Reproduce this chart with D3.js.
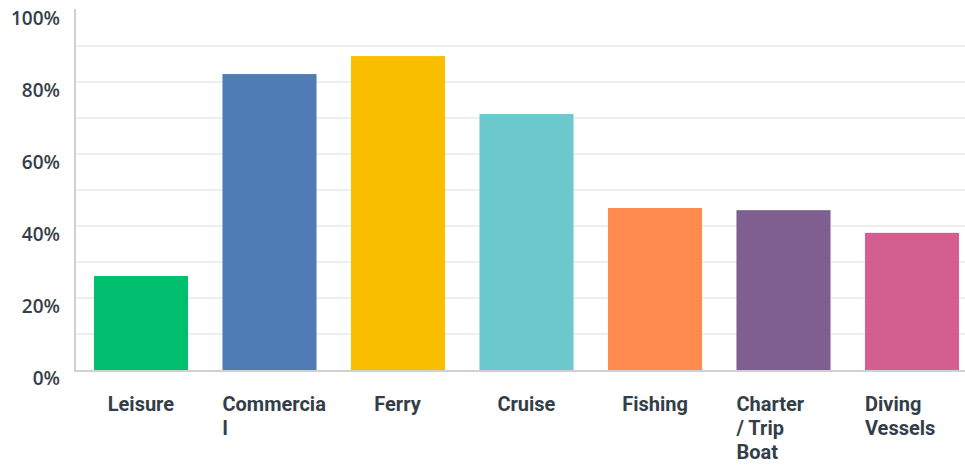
<!DOCTYPE html>
<html lang="en">
<head>
    <meta charset="UTF-8">
    <title>Vessel types</title>
    <style>
        body{
            margin: 0;
            background: #fff;
        }
    </style>
</head>
<body>
    <div id="chart"></div>
    <script src="https://d3js.org/d3.v7.min.js"></script>
    <script>
        var categories = ["Leisure", "Commercial", "Ferry", "Cruise", "Fishing", "Charter / Trip Boat", "Diving Vessels"];
        // how the labels wrap under each bar
        var labelLines = [["Leisure"], ["Commercia", "l"], ["Ferry"], ["Cruise"], ["Fishing"], ["Charter", "/ Trip", "Boat"], ["Diving", "Vessels"]];
        var values = [26.1, 82.2, 87.2, 71.1, 45.0, 44.4, 38.1];
        var colors = ["#00bf6f", "#507cb6", "#f9be00", "#6bc8cd", "#ff8b4f", "#7f5f90", "#d25f90"];
        var yTicks = [0, 20, 40, 60, 80, 100];
        var gridTicks = [10, 20, 30, 40, 50, 60, 70, 80, 90];

        var width = 965, height = 465;
        var plotLeft = 75, plotTop = 10, plotBottom = 370;

        var svg = d3.select("#chart").append("svg")
            .attr("width", width)
            .attr("height", height);

        var x = d3.scaleBand()
            .domain(categories)
            .range([76.75, 976.25])
            .paddingInner(0.268)
            .paddingOuter(0.134);

        var y = d3.scaleLinear()
            .domain([0, 100])
            .range([plotBottom, plotTop]);

        // grid
        svg.append("g").selectAll("line")
            .data(gridTicks)
            .enter()
            .append("line")
            .attr("x1", plotLeft)
            .attr("x2", width)
            .attr("y1", function(d){ return y(d); })
            .attr("y2", function(d){ return y(d); })
            .attr("stroke", "#eeeeee")
            .attr("stroke-width", 2);

        // bars
        svg.append("g").selectAll("rect")
            .data(values)
            .enter()
            .append("rect")
            .attr("x", function(d, i){ return x(categories[i]); })
            .attr("y", function(d){ return y(d); })
            .attr("width", x.bandwidth())
            .attr("height", function(d){ return y(0) - y(d); })
            .attr("fill", function(d, i){ return colors[i]; });

        // axis lines
        svg.append("line")
            .attr("x1", plotLeft).attr("x2", plotLeft)
            .attr("y1", plotTop - 1).attr("y2", plotBottom + 2)
            .attr("stroke", "#d0d0d0")
            .attr("stroke-width", 2);
        svg.append("line")
            .attr("x1", plotLeft).attr("x2", width)
            .attr("y1", plotBottom + 1).attr("y2", plotBottom + 1)
            .attr("stroke", "#d0d0d0")
            .attr("stroke-width", 2);

        // y labels
        svg.append("g").selectAll("text")
            .data(yTicks)
            .enter()
            .append("text")
            .attr("x", 60)
            .attr("y", function(d){ return y(d) + 15; })
            .attr("text-anchor", "end")
            .attr("font-family", "'Open Sans', sans-serif")
            .attr("font-weight", 600)
            .attr("font-size", "19px")
            .attr("fill", "#333e48")
            .text(function(d){ return d + "%"; });

        // x labels, left aligned inside a box centred on the bar
        var xl = svg.append("g").selectAll("text")
            .data(categories)
            .enter()
            .append("text")
            .attr("font-family", "Roboto, sans-serif")
            .attr("font-weight", 700)
            .attr("font-size", "20px")
            .attr("fill", "#333e48");

        xl.each(function(d, i){
            var t = d3.select(this);
            labelLines[i].forEach(function(line, j){
                t.append("tspan")
                    .attr("dy", j == 0 ? 0 : 24)
                    .text(line);
            });
            var boxW = Math.min(this.getBBox().width, x.bandwidth());
            var lx = x(d) + x.bandwidth() / 2 - boxW / 2;
            t.attr("y", 411);
            t.selectAll("tspan").attr("x", lx);
        });
    </script>
</body>
</html>
